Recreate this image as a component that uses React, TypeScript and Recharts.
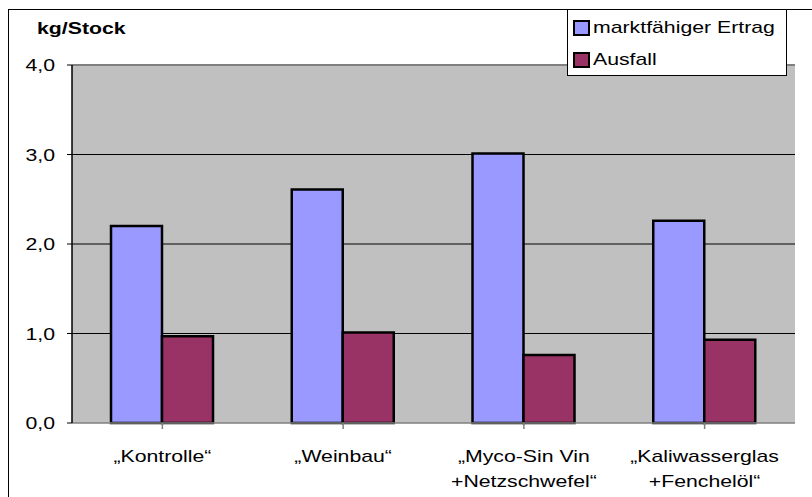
import { Bar, BarChart, CartesianGrid, Legend, ReferenceLine, XAxis, YAxis } from "recharts";

const categories = ["„Kontrolle“", "„Weinbau“", "„Myco-Sin Vin\n+Netzschwefel“", "„Kaliwasserglas\n+Fenchelöl“"];
const ertrag = [2.2, 2.61, 3.01, 2.26];
const ausfall = [0.97, 1.01, 0.76, 0.93];
const yTicks = [0, 1, 2, 3, 4];

const seriesNames = { ertrag: "marktfähiger Ertrag", ausfall: "Ausfall" };
const colors = { ertrag: "#9999FF", ausfall: "#993366" };

const FONT = "'Liberation Sans', Arial, sans-serif";
const STRETCH = 1.25;

const data = categories.map((name, i) => ({ name, ertrag: ertrag[i], ausfall: ausfall[i] }));

function YTick({ x, y, payload }: any) {
  return (
    <g transform={`translate(${x},${y}) scale(${STRETCH},1)`}>
      <text x={0} y={0} dy="0.36em" textAnchor="end" fontFamily={FONT} fontSize={17} fill="#000">
        {payload.value.toFixed(1).replace(".", ",")}
      </text>
    </g>
  );
}

function XTick({ x, y, payload }: any) {
  const lines = String(payload.value).split("\n");
  return (
    <g transform={`translate(${x},${y + 33}) scale(${STRETCH},1)`}>
      <text x={0} y={0} textAnchor="middle" fontFamily={FONT} fontSize={17} fill="#000">
        {lines.map((line, i) => (
          <tspan key={i} x={0} dy={i === 0 ? 0 : 25}>
            {line}
          </tspan>
        ))}
      </text>
    </g>
  );
}

function LegendBox() {
  const items = [
    { label: seriesNames.ertrag, color: colors.ertrag },
    { label: seriesNames.ausfall, color: colors.ausfall },
  ];
  return (
    <div
      style={{
        width: 218,
        height: 65,
        background: "#fff",
        border: "1px solid #000",
        position: "relative",
      }}
    >
      {items.map((it, i) => (
        <div key={it.label} style={{ position: "absolute", left: 5, top: 10 + i * 32, height: 16, display: "flex", alignItems: "center" }}>
          <div style={{ width: 13, height: 12, background: it.color, border: "2px solid #000" }} />
          <span
            style={{
              marginLeft: 3,
              fontFamily: FONT,
              fontSize: 17,
              lineHeight: "16px",
              color: "#000",
              whiteSpace: "nowrap",
              display: "inline-block",
              transform: `scaleX(${STRETCH})`,
              transformOrigin: "left center",
            }}
          >
            {it.label}
          </span>
        </div>
      ))}
    </div>
  );
}

export default function App() {
  return (
    <div style={{ position: "absolute", left: 0, top: 0, width: 812, height: 497, overflow: "hidden", background: "#fff" }}>
      <div
        style={{
          position: "absolute",
          left: 8,
          top: 9,
          width: 900,
          height: 600,
          borderLeft: "1px solid #000",
          borderTop: "1px solid #000",
        }}
      />
      <div
        style={{
          position: "absolute",
          left: 37,
          top: 19,
          fontFamily: FONT,
          fontWeight: "bold",
          fontSize: 17,
          lineHeight: "20px",
          transform: `scaleX(${STRETCH})`,
          transformOrigin: "left center",
          whiteSpace: "nowrap",
        }}
      >
        kg/Stock
      </div>
      <div style={{ position: "absolute", left: 0, top: 0 }}>
        <BarChart
          width={812}
          height={497}
          data={data}
          margin={{ top: 65, right: 17, bottom: 0, left: 0 }}
          barCategoryGap={39}
          barGap={0}
        >
          <CartesianGrid
            vertical={false}
            fill="#C0C0C0"
            stroke="#000"
            strokeWidth={1}
            horizontalValues={[1, 2, 3]}
          />
          <XAxis
            dataKey="name"
            height={74}
            interval={0}
            axisLine={{ stroke: "#808080", strokeWidth: 1.5 }}
            tickLine={{ stroke: "#808080", strokeWidth: 1.5 }}
            tickSize={6}
            tickMargin={0}
            tick={<XTick />}
          />
          <YAxis
            width={72}
            domain={[0, 4]}
            ticks={yTicks}
            interval={0}
            axisLine={{ stroke: "#000", strokeWidth: 1.5 }}
            tickLine={{ stroke: "#000", strokeWidth: 1 }}
            tickSize={5}
            tickMargin={12}
            tick={<YTick />}
          />
          <YAxis
            yAxisId="r"
            orientation="right"
            width={0}
            domain={[0, 4]}
            tick={false}
            tickLine={false}
            axisLine={{ stroke: "#808080", strokeWidth: 2 }}
          />
          <ReferenceLine y={4} stroke="#808080" strokeWidth={2} />
          <Legend
            layout="vertical"
            verticalAlign="middle"
            align="center"
            content={<LegendBox />}
            wrapperStyle={{ position: "absolute", left: 567, top: 9, width: 220, height: 67 }}
          />
          <Bar
            dataKey="ertrag"
            name={seriesNames.ertrag}
            fill={colors.ertrag}
            stroke="#000"
            strokeWidth={2.5}
            isAnimationActive={false}
          />
          <Bar
            dataKey="ausfall"
            name={seriesNames.ausfall}
            fill={colors.ausfall}
            stroke="#000"
            strokeWidth={2.5}
            isAnimationActive={false}
          />
        </BarChart>
      </div>
    </div>
  );
}
